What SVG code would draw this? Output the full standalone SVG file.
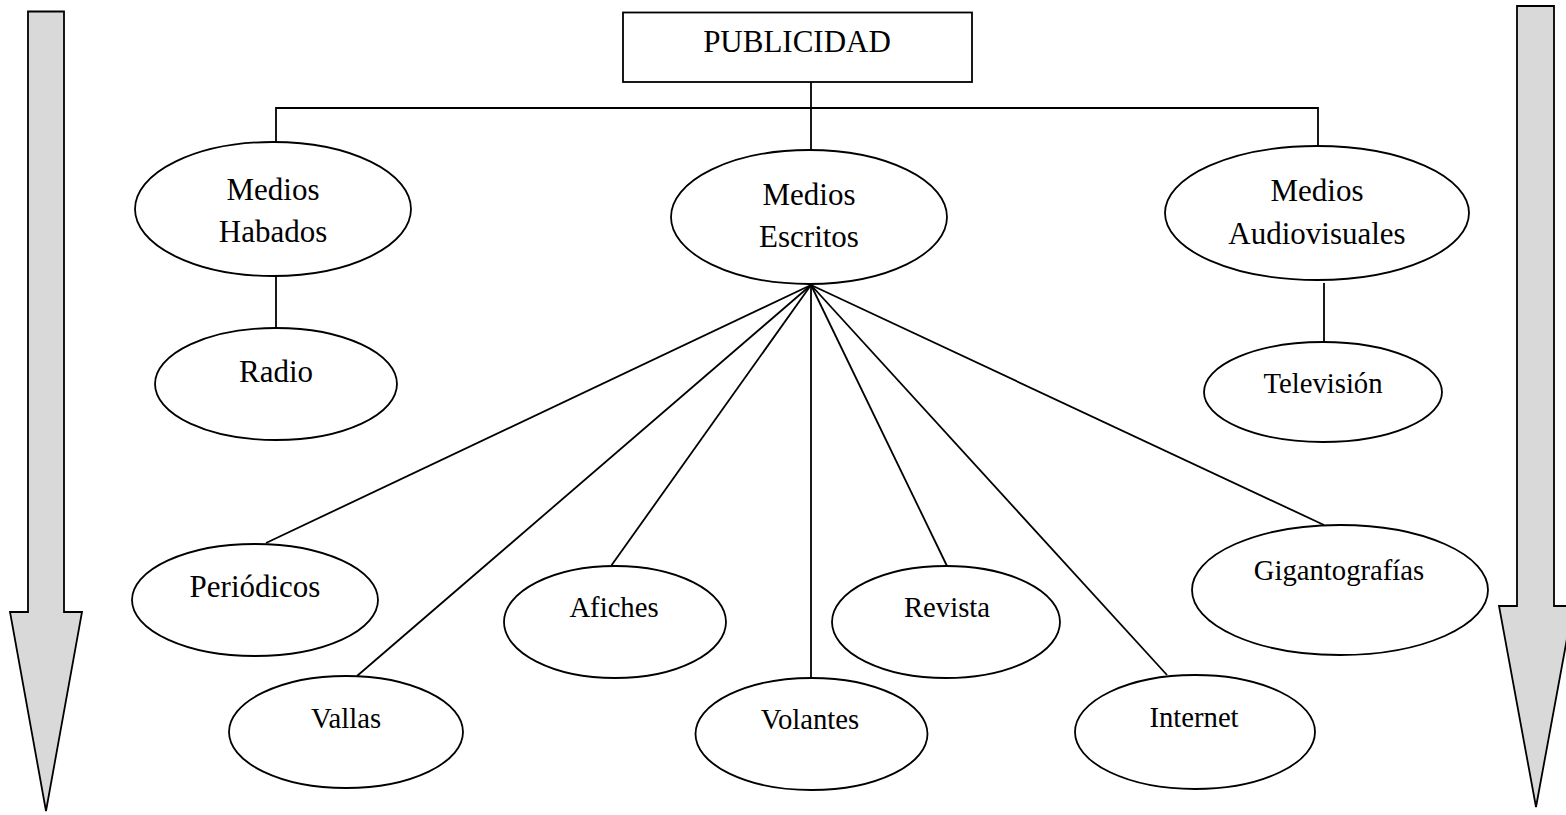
<svg xmlns="http://www.w3.org/2000/svg" width="1566" height="815" viewBox="0 0 1566 815">
  <style>
    .shape { fill: #ffffff; stroke: #000000; stroke-width: 1.8; }
    .arrow { fill: #d9d9d9; stroke: #000000; stroke-width: 1.8; stroke-linejoin: miter; }
    .link { fill: none; stroke: #000000; stroke-width: 1.8; }
    text { font-family: "Liberation Serif", "Times New Roman", serif; fill: #000000; text-anchor: middle; }
    .big { font-size: 31px; }
    .small { font-size: 28.7px; }
  </style>
  <rect width="1566" height="815" fill="#ffffff"/>

  <!-- side arrows -->
  <g id="arrow-left">
    <polygon class="arrow" points="28,11.5 64,11.5 64,612 82,612 46,811 10,612 28,612"/>
  </g>
  <g id="arrow-right">
    <polygon class="arrow" points="1517,6 1554,6 1554,606 1573,606 1536,807 1499,606 1517,606"/>
  </g>

  <!-- connectors -->
  <g id="connectors">
    <polyline class="link" points="276,142 276,108 1318,108 1318,147"/>
    <line class="link" x1="811" y1="82" x2="811" y2="150"/>
    <line class="link" x1="276" y1="276" x2="276" y2="328"/>
    <line class="link" x1="1324" y1="283" x2="1324" y2="342"/>
    <line class="link" x1="811" y1="285" x2="266" y2="543"/>
    <line class="link" x1="811" y1="285" x2="357" y2="676"/>
    <line class="link" x1="811" y1="285" x2="611" y2="566"/>
    <line class="link" x1="811" y1="285" x2="811" y2="678"/>
    <line class="link" x1="811" y1="285" x2="947" y2="566"/>
    <line class="link" x1="811" y1="285" x2="1167" y2="675"/>
    <line class="link" x1="811" y1="285" x2="1324" y2="525"/>
  </g>

  <g id="publicidad">
    <rect class="shape" x="623" y="12.5" width="349" height="69.5"/>
    <text class="big" x="797" y="52">PUBLICIDAD</text>
  </g>

  <g id="medios-hablados">
    <ellipse class="shape" cx="273" cy="209" rx="138" ry="67"/>
    <text class="big" x="273" y="200">Medios</text>
    <text class="big" x="273" y="242">Habados</text>
  </g>
  <g id="medios-escritos">
    <ellipse class="shape" cx="809" cy="217" rx="138" ry="67"/>
    <text class="big" x="809" y="205">Medios</text>
    <text class="big" x="809" y="247">Escritos</text>
  </g>
  <g id="medios-audiovisuales">
    <ellipse class="shape" cx="1317" cy="213" rx="152" ry="67"/>
    <text class="big" x="1317" y="201">Medios</text>
    <text class="big" x="1317" y="244">Audiovisuales</text>
  </g>

  <g id="radio">
    <ellipse class="shape" cx="276" cy="384" rx="121" ry="56"/>
    <text class="big" x="276" y="382">Radio</text>
  </g>
  <g id="television">
    <ellipse class="shape" cx="1323" cy="392" rx="119" ry="50"/>
    <text class="small" x="1323" y="393">Televisión</text>
  </g>

  <g id="periodicos">
    <ellipse class="shape" cx="255" cy="600" rx="123" ry="56"/>
    <text class="big" x="255" y="597">Periódicos</text>
  </g>
  <g id="vallas">
    <ellipse class="shape" cx="346" cy="732" rx="117" ry="56"/>
    <text class="small" x="346" y="728">Vallas</text>
  </g>
  <g id="afiches">
    <ellipse class="shape" cx="615" cy="622" rx="111" ry="56"/>
    <text class="small" x="614" y="617">Afiches</text>
  </g>
  <g id="volantes">
    <ellipse class="shape" cx="811.5" cy="734" rx="116" ry="56"/>
    <text class="small" x="810" y="729">Volantes</text>
  </g>
  <g id="revista">
    <ellipse class="shape" cx="946" cy="622" rx="114" ry="56"/>
    <text class="small" x="947" y="617">Revista</text>
  </g>
  <g id="internet">
    <ellipse class="shape" cx="1195" cy="732" rx="120" ry="57"/>
    <text class="small" x="1194" y="727">Internet</text>
  </g>
  <g id="gigantografias">
    <ellipse class="shape" cx="1340" cy="590" rx="148" ry="65"/>
    <text class="small" x="1339" y="580">Gigantografías</text>
  </g>
</svg>
